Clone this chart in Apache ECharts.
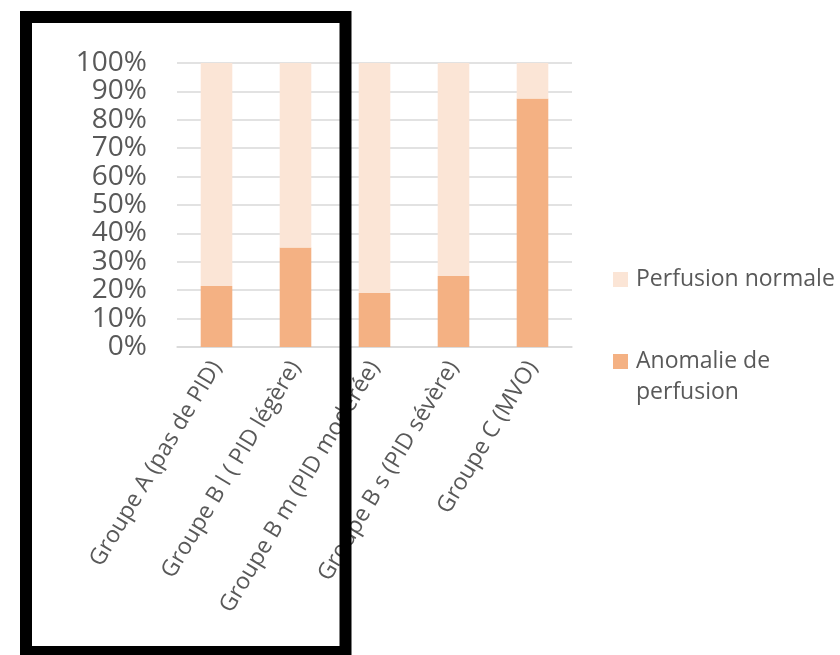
<!DOCTYPE html>
<html>
<head>
<meta charset="utf-8">
<title>Perfusion par groupe</title>
<script src="https://cdn.jsdelivr.net/npm/echarts@6/dist/echarts.min.js"></script>
<style>
  html, body { margin: 0; padding: 0; background: #ffffff; }
  #chart { width: 840px; height: 655px; }
</style>
</head>
<body>
<div id="chart"></div>
<script>
// Groups along the x axis
const categories = [
  'Groupe A (pas de PID)',
  'Groupe B l ( PID légère)',
  'Groupe B m (PID modérée)',
  'Groupe B s (PID sévère)',
  'Groupe C (MVO)'
];
// Share of patients (%) in each group
const anomalieValues = [21.5, 35, 19, 25, 87.5];
const normaleValues = [78.5, 65, 81, 75, 12.5];
// Y axis tick labels
const yTicks = ['0%', '10%', '20%', '30%', '40%', '50%', '60%', '70%', '80%', '90%', '100%'];

const textColor = '#595959';
const fontFamily = '"Open Sans", "DejaVu Sans", sans-serif';

const chart = echarts.init(document.getElementById('chart'), null, { renderer: 'canvas' });

chart.setOption({
  backgroundColor: '#ffffff',
  animation: false,
  textStyle: { fontFamily: fontFamily, color: textColor },
  grid: { left: 177, right: 268, top: 63, bottom: 308, containLabel: false },
  legend: {
    orient: 'vertical',
    left: 613,
    top: 264,
    padding: 0,
    itemGap: 20,
    itemWidth: 15,
    itemHeight: 15,
    icon: 'rect',
    data: ['Perfusion normale', 'Anomalie de perfusion'],
    formatter: function (name) {
      // the blank first line keeps the marker level with the first text line
      return name === 'Anomalie de perfusion' ? '\nAnomalie de\nperfusion' : name;
    },
    textStyle: {
      fontFamily: fontFamily,
      fontSize: 23,
      lineHeight: 31,
      color: textColor,
      padding: [0, 0, 0, 3]
    }
  },
  xAxis: {
    type: 'category',
    data: categories,
    axisLine: { show: true, lineStyle: { color: '#D9D9D9', width: 1.5 } },
    axisTick: { show: false },
    axisLabel: {
      interval: 0,
      rotate: 59,
      margin: 16,
      fontFamily: fontFamily,
      fontSize: 23,
      color: textColor
    }
  },
  yAxis: {
    type: 'value',
    min: 0,
    max: 100,
    interval: 10,
    axisLine: { show: false },
    axisTick: { show: false },
    splitLine: { lineStyle: { color: '#D9D9D9', width: 1.5 } },
    axisLabel: {
      margin: 30,
      fontFamily: fontFamily,
      fontSize: 28,
      color: textColor,
      formatter: function (v) { return yTicks[Math.round(v / 10)]; }
    }
  },
  series: [
    {
      name: 'Anomalie de perfusion',
      type: 'bar',
      stack: 'total',
      barWidth: '40%',
      itemStyle: { color: '#F4B183' },
      data: anomalieValues
    },
    {
      name: 'Perfusion normale',
      type: 'bar',
      stack: 'total',
      barWidth: '40%',
      itemStyle: { color: '#FBE5D6' },
      data: normaleValues
    }
  ],
  graphic: [
    {
      type: 'rect',
      z: 100,
      silent: true,
      shape: { x: 26, y: 17, width: 319.5, height: 635 },
      style: { fill: 'none', stroke: '#000000', lineWidth: 12 }
    }
  ]
});
</script>
</body>
</html>
